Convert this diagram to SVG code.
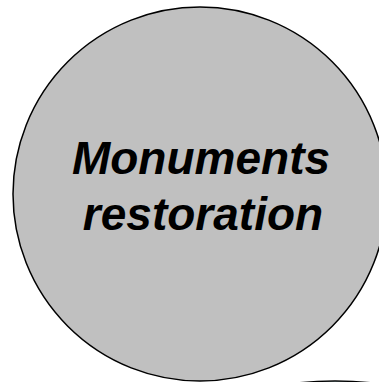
<svg xmlns="http://www.w3.org/2000/svg" width="379" height="382" viewBox="0 0 379 382">
<style>
.node{stroke:#000;stroke-width:1.5}
.lbl{font-family:"Liberation Sans",Arial,sans-serif;font-weight:bold;font-style:italic;font-size:46px;fill:#000;text-anchor:middle}
</style>
<rect width="379" height="382" fill="#fff"/>
<g id="connectors"></g>
<g id="node-blue">
<circle class="node" cx="335" cy="731" r="350" fill="#cdeff0"/>
</g>
<g id="node-monuments">
<ellipse class="node" cx="200" cy="194" rx="187" ry="187" fill="#c0c0c0"/>
<text class="lbl" x="201" y="174">Monuments</text>
<text class="lbl" x="203" y="230">restoration</text>
</g>
</svg>
